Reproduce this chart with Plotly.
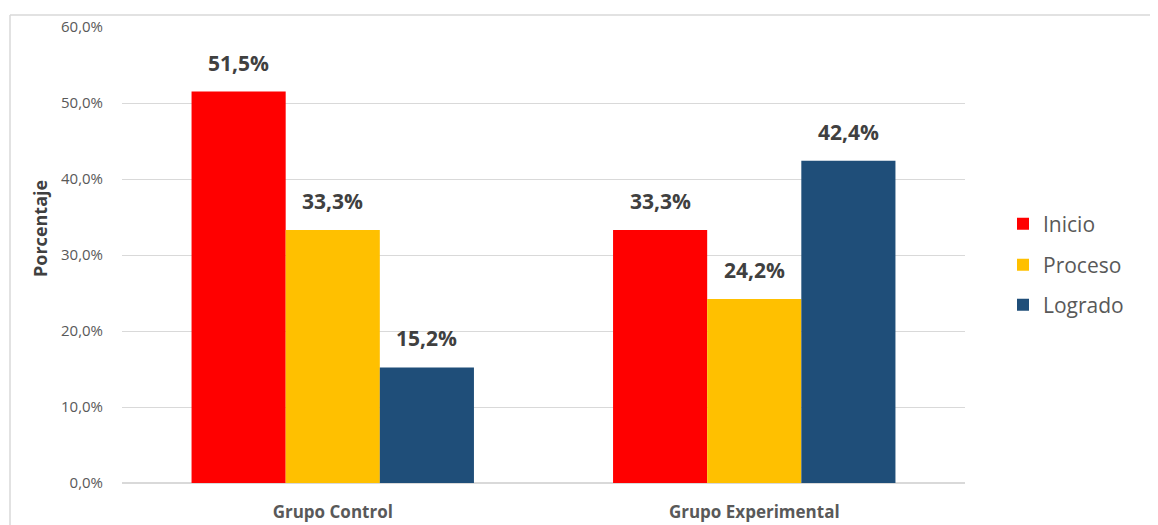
import plotly.graph_objects as go

categories = ["Grupo Control", "Grupo Experimental"]
series_names = ["Inicio", "Proceso", "Logrado"]
inicio = [51.5, 33.3]
proceso = [33.3, 24.2]
logrado = [15.2, 42.4]
tick_vals = [0, 10, 20, 30, 40, 50, 60]
tick_text = ["0,0%", "10,0%", "20,0%", "30,0%", "40,0%", "50,0%", "60,0%"]

colors = ["#FF0000", "#FFC000", "#1F4E79"]
values = [inicio, proceso, logrado]

# page has an 8px body margin: figure coordinates = page coordinates - 8
W, H = 1150, 517
L, T = 114, 19
PR, PB = 957, 475
R, B = W - PR, H - PB
pw, ph = PR - L, PB - T


def px(fx):
    return (fx - L) / pw


def py(fy):
    return (PB - fy) / ph


legend_names = ["legend", "legend2", "legend3"]
legend_y = [216, 257, 297]

fig = go.Figure()
for name, vals, col, lg in zip(series_names, values, colors, legend_names):
    fig.add_trace(go.Bar(x=categories, y=vals, name=name, marker_color=col,
                         marker_line_width=0, hoverinfo="skip", legend=lg))

# data labels
bar_px = pw / 2 * 0.67 / 3
for i, vals in enumerate(values):
    for c, v in zip(categories, vals):
        fig.add_annotation(x=c, y=v, text=f"{v:.1f}%".replace(".", ","),
                           showarrow=False, xshift=(i - 1) * bar_px, yshift=29,
                           font=dict(family="Open Sans", size=21, color="#404040",
                                     weight="bold"))

# y axis title
fig.add_annotation(xref="paper", yref="paper", x=px(32), y=py(221),
                   xanchor="center", yanchor="middle",
                   text="Porcentaje", textangle=-90, showarrow=False,
                   font=dict(family="Open Sans", size=18, color="#404040", weight="bold"))

# outer border (top and left)
fig.add_shape(type="line", xref="paper", yref="paper",
              x0=px(2), x1=px(1160), y0=py(7), y1=py(7),
              line=dict(color="#D9D9D9", width=1.5))
fig.add_shape(type="line", xref="paper", yref="paper",
              x0=px(2), x1=px(2), y0=py(7), y1=py(530),
              line=dict(color="#D9D9D9", width=1.5))

legend_common = dict(xanchor="left", yanchor="middle",
                     font=dict(family="Open Sans", size=21, color="#595959"),
                     itemwidth=30, bgcolor="rgba(0,0,0,0)")
fig.update_layout(
    width=W, height=H,
    margin=dict(l=L, r=R, t=T, b=B, autoexpand=False),
    paper_bgcolor="white", plot_bgcolor="white",
    barmode="group", bargap=0.33, bargroupgap=0,
    showlegend=True,
    legend=dict(x=px(995), y=py(legend_y[0]), **legend_common),
    legend2=dict(x=px(995), y=py(legend_y[1]), **legend_common),
    legend3=dict(x=px(995), y=py(legend_y[2]), **legend_common),
    xaxis=dict(showgrid=False, showline=False, zeroline=False, automargin=False,
               ticks="outside", ticklen=14, tickcolor="rgba(0,0,0,0)",
               tickfont=dict(family="Open Sans", size=17, color="#595959", weight="bold")),
    yaxis=dict(range=[0, 60], tickvals=tick_vals, ticktext=tick_text, automargin=False,
               showgrid=True, gridcolor="#D9D9D9", gridwidth=1,
               zeroline=True, zerolinecolor="#D9D9D9", zerolinewidth=1.5,
               showline=False, ticks="outside", ticklen=15, tickcolor="rgba(0,0,0,0)",
               tickfont=dict(family="Open Sans", size=15, color="#595959")),
)

fig.write_html("out.html")
